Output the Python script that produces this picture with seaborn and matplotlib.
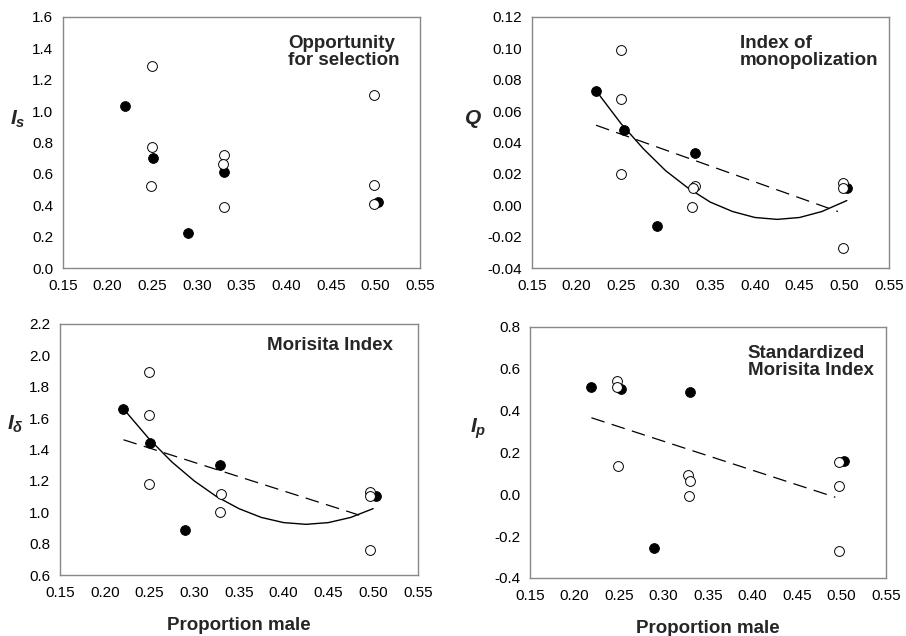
import numpy as np
import pandas as pd
import matplotlib.pyplot as plt
import seaborn as sns

# ---------------- data ----------------
x_ticks = [0.15, 0.20, 0.25, 0.30, 0.35, 0.40, 0.45, 0.50, 0.55]

# Opportunity for selection (Is)
is_filled_x = [0.220, 0.251, 0.290, 0.331, 0.503]
is_filled_y = [1.03, 0.70, 0.22, 0.61, 0.42]
is_open_x = [0.250, 0.250, 0.249, 0.331, 0.329, 0.330, 0.499, 0.499, 0.498]
is_open_y = [1.29, 0.77, 0.52, 0.72, 0.66, 0.39, 1.10, 0.53, 0.41]
is_ticks = [0.0, 0.2, 0.4, 0.6, 0.8, 1.0, 1.2, 1.4, 1.6]

# Index of monopolization (Q)
q_filled_x = [0.222, 0.253, 0.290, 0.333, 0.503]
q_filled_y = [0.073, 0.048, -0.013, 0.033, 0.011]
q_open_x = [0.250, 0.250, 0.250, 0.333, 0.331, 0.330, 0.499, 0.499, 0.499]
q_open_y = [0.099, 0.068, 0.020, 0.012, 0.011, -0.001, 0.014, 0.011, -0.027]
q_curve_x = [0.222, 0.25, 0.275, 0.30, 0.325, 0.35, 0.375, 0.40, 0.425, 0.45, 0.475, 0.503]
q_curve_y = [0.073, 0.052, 0.036, 0.022, 0.011, 0.002, -0.004, -0.0078, -0.009, -0.0078, -0.004, 0.003]
q_line_x = [0.222, 0.493]
q_line_y = [0.051, -0.004]
q_ticks = [-0.04, -0.02, 0.00, 0.02, 0.04, 0.06, 0.08, 0.10, 0.12]

# Morisita Index (I delta)
md_filled_x = [0.220, 0.251, 0.290, 0.329, 0.503]
md_filled_y = [1.655, 1.44, 0.887, 1.30, 1.104]
md_open_x = [0.249, 0.249, 0.250, 0.330, 0.329, 0.496, 0.496, 0.496]
md_open_y = [1.896, 1.617, 1.179, 1.117, 1.00, 1.132, 1.104, 0.760]
md_curve_x = [0.222, 0.25, 0.275, 0.30, 0.325, 0.35, 0.375, 0.40, 0.425, 0.45, 0.475, 0.50]
md_curve_y = [1.652, 1.465, 1.321, 1.200, 1.100, 1.023, 0.967, 0.934, 0.923, 0.934, 0.967, 1.023]
md_line_x = [0.221, 0.492]
md_line_y = [1.462, 0.968]
md_ticks = [0.6, 0.8, 1.0, 1.2, 1.4, 1.6, 1.8, 2.0, 2.2]

# Standardized Morisita Index (Ip)
ip_filled_x = [0.219, 0.252, 0.289, 0.330, 0.503]
ip_filled_y = [0.511, 0.503, -0.257, 0.487, 0.160]
ip_open_x = [0.248, 0.248, 0.249, 0.328, 0.330, 0.329, 0.497, 0.497, 0.497]
ip_open_y = [0.542, 0.511, 0.137, 0.093, 0.066, -0.006, 0.153, 0.042, -0.270]
ip_line_x = [0.219, 0.493]
ip_line_y = [0.366, -0.014]
ip_ticks = [-0.4, -0.2, 0.0, 0.2, 0.4, 0.6, 0.8]

# ---------------- style ----------------
sns.set_style('white')
plt.rcParams['font.family'] = ['Liberation Sans', 'DejaVu Sans']
plt.rcParams['mathtext.fontset'] = 'custom'
plt.rcParams['mathtext.it'] = 'Liberation Sans:italic:bold'
plt.rcParams['mathtext.rm'] = 'Liberation Sans:bold'
plt.rcParams['axes.unicode_minus'] = False

fig = plt.figure(figsize=(9.06, 6.36), dpi=100)


def draw_panel(ax, fx, fy, ox, oy, yticks, yfmt, ylabel, lab_xy, title, title_xy,
               curve=None, line=None, xlabel=False):
    if curve is not None:
        sns.lineplot(x=curve[0], y=curve[1], ax=ax, color='black', lw=1.0,
                     sort=False, estimator=None, zorder=2)
    if line is not None:
        sns.lineplot(x=line[0], y=line[1], ax=ax, color='black', lw=0.9,
                     dashes=False, linestyle=(0, (11, 6)), sort=False,
                     estimator=None, zorder=2)
    sns.scatterplot(x=fx, y=fy, ax=ax, color='black', edgecolor='black',
                    s=50, linewidth=0.6, zorder=3)
    sns.scatterplot(x=ox, y=oy, ax=ax, color='white', edgecolor='black',
                    s=50, linewidth=0.7, zorder=4)

    ax.set_xlim(x_ticks[0], x_ticks[-1])
    ax.set_ylim(yticks[0], yticks[-1])
    ax.set_xticks(x_ticks)
    ax.set_xticklabels([f'{t:.2f}' for t in x_ticks])
    ax.set_yticks(yticks)
    ax.set_yticklabels([yfmt.format(t) for t in yticks])
    ax.tick_params(labelsize=11, length=2, width=0.8, direction='out',
                   color='#888888', labelcolor='black')
    ax.tick_params(axis='x', pad=6)
    ax.tick_params(axis='y', pad=5)
    for s in ax.spines.values():
        s.set_color('#888888')
        s.set_linewidth(1.0)

    ax.set_ylabel(ylabel, rotation=0, fontsize=15)
    ax.yaxis.set_label_coords(*lab_xy)
    if xlabel:
        ax.set_xlabel('Proportion male', fontsize=13.5, fontweight='bold',
                      labelpad=12)
    else:
        ax.set_xlabel('')
    ax.text(title_xy[0], title_xy[1], title, transform=ax.transAxes,
            fontsize=13.5, fontweight='bold', ha='left', va='top',
            multialignment='left', linespacing=1.0)


ax1 = fig.add_axes([0.0695, 0.5786, 0.394, 0.3947])
draw_panel(ax1, is_filled_x, is_filled_y, is_open_x, is_open_y, is_ticks, '{:.1f}',
           r'$I_s$', (-0.126, 0.55), 'Opportunity\nfor selection', (0.63, 0.93))

ax2 = fig.add_axes([0.587, 0.5786, 0.394, 0.3947])
draw_panel(ax2, q_filled_x, q_filled_y, q_open_x, q_open_y, q_ticks, '{:.2f}',
           r'$Q$', (-0.165, 0.55), 'Index of\nmonopolization', (0.583, 0.93),
           curve=(q_curve_x, q_curve_y), line=(q_line_x, q_line_y))

ax3 = fig.add_axes([0.0662, 0.0959, 0.395, 0.3947])
draw_panel(ax3, md_filled_x, md_filled_y, md_open_x, md_open_y, md_ticks, '{:.1f}',
           r'$I_\delta$', (-0.126, 0.558), 'Morisita Index', (0.578, 0.95),
           curve=(md_curve_x, md_curve_y), line=(md_line_x, md_line_y), xlabel=True)

ax4 = fig.add_axes([0.585, 0.0912, 0.393, 0.3947])
draw_panel(ax4, ip_filled_x, ip_filled_y, ip_open_x, ip_open_y, ip_ticks, '{:.1f}',
           r'$I_p$', (-0.146, 0.546), 'Standardized\nMorisita Index', (0.612, 0.93),
           line=(ip_line_x, ip_line_y), xlabel=True)

fig.savefig('out.png', dpi=100)
